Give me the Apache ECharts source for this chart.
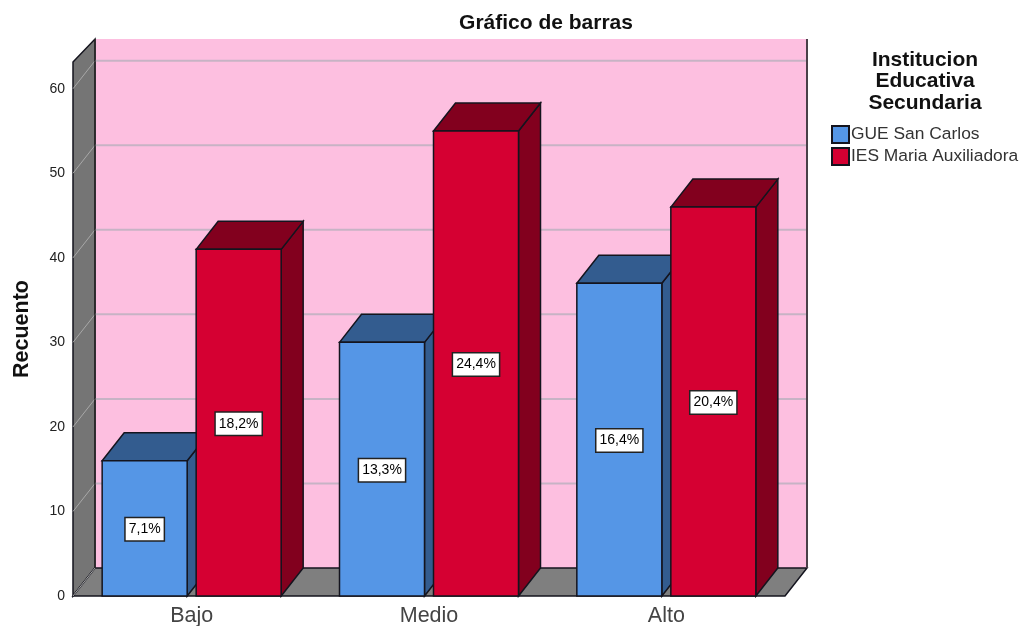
<!DOCTYPE html>
<html>
<head>
<meta charset="utf-8">
<style>html,body{margin:0;padding:0;background:#fff}#c{width:1023px;height:626px}</style>
<script src="https://cdn.jsdelivr.net/npm/echarts@6/dist/echarts.min.js"></script>
</head>
<body>
<div id="c"></div>
<script>
const categories = ['Bajo', 'Medio', 'Alto'];
const gueValues = [16, 30, 37];
const iesValues = [41, 55, 46];
const gueLabels = ['7,1%', '13,3%', '16,4%'];
const iesLabels = ['18,2%', '24,4%', '20,4%'];
const wallTicks = [10, 20, 30, 40, 50, 60];
const seriesNames = ['GUE San Carlos', 'IES Maria Auxiliadora'];
const FONT = '"Liberation Sans", Arial, sans-serif';
const DX = 22, DY = -28, BAR_W = 85, OFFSET = 47;
const EDGE = '#14141e';

function poly(points, fill, stroke, lw) {
  return { type: 'polygon', shape: { points }, style: { fill, stroke: stroke || 'none', lineWidth: lw || 0 } };
}

function renderWalls(params, api) {
  const g = params.coordSys;
  const L = g.x, R = g.x + g.width, B = g.y + g.height;
  const top = g.y + 1;
  const children = [
    poly([[L + DX, top], [R + DX, top], [R + DX, B + DY], [L + DX, B + DY]], '#FDBFE0'),
    poly([[L, top + 23], [L + DX, top], [L + DX, B + DY], [L, B]], '#757575', EDGE, 1.5),
    poly([[L, B], [L + DX, B + DY], [R + DX, B + DY], [R, B]], '#7F7F7F', EDGE, 1.5)
  ];
  wallTicks.forEach(t => {
    const y = api.coord([0, t])[1];
    children.push({ type: 'line', shape: { x1: L + DX, y1: y + DY, x2: R + DX, y2: y + DY }, style: { stroke: '#C7B3C5', lineWidth: 2 } });
    children.push({ type: 'line', shape: { x1: L, y1: y, x2: L + DX, y2: y + DY }, style: { stroke: '#A8A8A8', lineWidth: 1 } });
  });
  children.push({ type: 'line', shape: { x1: L, y1: B, x2: L + DX, y2: B + DY }, style: { stroke: '#A8A8A8', lineWidth: 1 } });
  children.push({ type: 'line', shape: { x1: L + DX, y1: top, x2: L + DX, y2: B + DY }, style: { stroke: '#2a2a2a', lineWidth: 1.5 } });
  children.push({ type: 'line', shape: { x1: R + DX, y1: top, x2: R + DX, y2: B + DY }, style: { stroke: '#4a4048', lineWidth: 2 } });
  return { type: 'group', children };
}

function barRenderer(sign, front, dark, labels) {
  return function (params, api) {
    const p = api.coord([api.value(0), api.value(1)]);
    const y0 = api.coord([api.value(0), 0])[1];
    const x0 = p[0] + sign * OFFSET - BAR_W / 2, x1 = x0 + BAR_W, yt = p[1];
    return {
      type: 'group',
      children: [
        poly([[x1, yt], [x1 + DX, yt + DY], [x1 + DX, y0 + DY], [x1, y0]], dark, EDGE, 1.5),
        poly([[x0, yt], [x0 + DX, yt + DY], [x1 + DX, yt + DY], [x1, yt]], dark, EDGE, 1.5),
        poly([[x0, yt], [x1, yt], [x1, y0], [x0, y0]], front, EDGE, 1.5),
        {
          type: 'text',
          x: (x0 + x1) / 2,
          y: (yt + y0) / 2 + 1,
          style: {
            text: labels[params.dataIndex],
            font: '14px ' + FONT,
            fill: '#000',
            align: 'center',
            verticalAlign: 'middle',
            backgroundColor: '#fff',
            borderColor: '#222',
            borderWidth: 1.5,
            padding: [4, 3, 4, 3]
          }
        }
      ]
    };
  };
}

const chart = echarts.init(document.getElementById('c'), null, { renderer: 'canvas' });
chart.setOption({
  animation: false,
  backgroundColor: '#fff',
  title: [
    { text: 'Gráfico de barras', left: 546, top: 13, padding: 0, textAlign: 'center',
      textStyle: { fontFamily: FONT, fontSize: 21, fontWeight: 'bold', color: '#111', lineHeight: 21 } },
    { text: 'Institucion\nEducativa\nSecundaria', left: 925, top: 49, padding: 0, textAlign: 'center',
      textStyle: { fontFamily: FONT, fontSize: 21, fontWeight: 'bold', color: '#111', lineHeight: 21.5 } }
  ],
  legend: {
    data: seriesNames,
    orient: 'vertical',
    left: 831,
    top: 125,
    padding: 0,
    itemWidth: 17,
    itemHeight: 17,
    itemGap: 3,
    icon: 'rect',
    textStyle: { fontFamily: FONT, fontSize: 17.4, color: '#333', lineHeight: 15, padding: [2, 0, 0, -3] }
  },
  grid: { left: 73, right: 238, top: 38, bottom: 30, outerBoundsMode: 'none' },
  xAxis: {
    type: 'category',
    data: categories,
    axisLine: { show: false },
    axisTick: { show: false },
    axisLabel: { fontFamily: FONT, fontSize: 21.5, color: '#444', margin: 9 }
  },
  yAxis: {
    type: 'value',
    min: 0,
    max: 66,
    interval: 10,
    splitLine: { show: false },
    axisTick: { show: false },
    axisLine: { show: false },
    axisLabel: { fontFamily: FONT, fontSize: 14, color: '#222', margin: 8, showMaxLabel: false, padding: [9, 0, 0, 0] }
  },
  graphic: [{
    type: 'text', x: 22, y: 329, rotation: Math.PI / 2, silent: true,
    style: { text: 'Recuento', font: 'bold 21.5px ' + FONT, fill: '#111', align: 'center', verticalAlign: 'middle' }
  }],
  series: [
    { type: 'custom', silent: true, z: 1, renderItem: renderWalls, data: [[0, 0]] },
    { type: 'custom', name: seriesNames[0], z: 2, renderItem: barRenderer(-1, '#5596E6', '#335C8F', gueLabels),
      itemStyle: { color: '#5596E6', borderColor: EDGE, borderWidth: 1.5 },
      encode: { x: 0, y: 1 },
      data: categories.map((c, i) => [i, gueValues[i]]) },
    { type: 'custom', name: seriesNames[1], z: 3, renderItem: barRenderer(1, '#D50032', '#82001E', iesLabels),
      itemStyle: { color: '#D50032', borderColor: EDGE, borderWidth: 1.5 },
      encode: { x: 0, y: 1 },
      data: categories.map((c, i) => [i, iesValues[i]]) }
  ]
});
</script>
</body>
</html>
